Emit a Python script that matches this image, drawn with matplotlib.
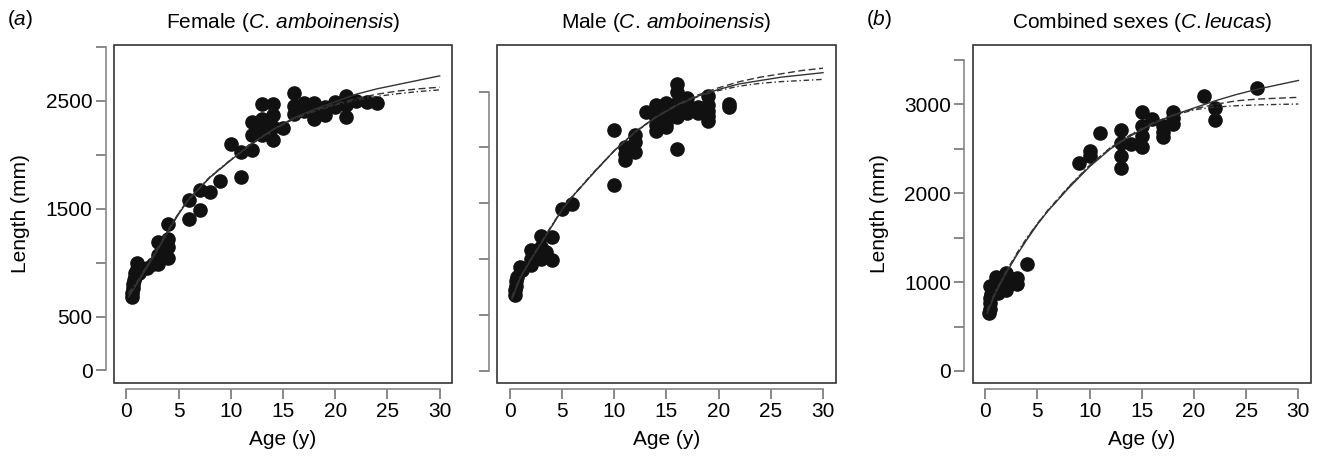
import matplotlib
import matplotlib.pyplot as plt
from matplotlib.patches import Rectangle
matplotlib.use('Agg')

plt.rcParams['font.family'] = 'Liberation Sans'
plt.rcParams['mathtext.fontset'] = 'custom'
plt.rcParams['mathtext.rm'] = 'Liberation Sans'
plt.rcParams['mathtext.it'] = 'Liberation Sans:italic'

# observed length-at-age (age in years, length in mm)
female_pts = [(0.5, 680), (0.5, 720), (0.6, 760), (0.6, 800), (0.7, 840), (0.8, 870),
              (0.8, 900), (1, 1000), (1, 940), (1.2, 900), (2, 950), (2.5, 990),
              (3, 1190), (3, 1070), (3, 990), (4, 1360), (4, 1220), (4, 1140), (4, 1040),
              (6, 1580), (6, 1400), (7, 1670), (7, 1490), (8, 1650), (9, 1760), (10, 2100),
              (11, 1790), (11, 2020), (12, 2040), (12, 2180), (12, 2300), (12.5, 2230),
              (13, 2470), (13, 2330), (13, 2180), (13.5, 2300), (14, 2470), (14, 2370),
              (14, 2260), (14, 2140), (15, 2250), (16, 2570), (16, 2450), (16, 2380),
              (17, 2400), (17, 2480), (18, 2480), (18, 2330), (18, 2420), (19, 2440),
              (19, 2370), (20, 2490), (20, 2440), (21, 2540), (21, 2460), (21, 2350),
              (22, 2500), (23, 2490), (24, 2480)]
male_pts = [(0.5, 680), (0.5, 720), (0.6, 760), (0.6, 800), (0.7, 840), (1, 930), (1.2, 900),
            (2, 1080), (2, 1000), (2, 950), (2.5, 1030), (3, 1210), (3, 1110), (3, 1000),
            (3.5, 1060), (4, 1200), (4, 990), (5, 1450), (6, 1490), (10, 2160), (10, 1660),
            (11, 2000), (11, 1890), (11, 1940), (12, 2110), (12, 2050), (12, 1960),
            (13, 2320), (14, 2380), (14, 2320), (14, 2260), (14, 2200), (14, 2150),
            (14.5, 2300), (15, 2400), (15, 2340), (15, 2280), (15, 2220), (15, 2180),
            (15, 2250), (15.5, 2300), (16, 2570), (16, 2500), (16, 2400), (16, 2330),
            (16, 2270), (16, 1990), (16.5, 2350), (17, 2440), (17, 2380), (17, 2310),
            (18, 2360), (18, 2310), (18.5, 2340), (19, 2460), (19, 2380), (19, 2330),
            (19, 2280), (19, 2240), (21, 2390), (21, 2360)]
leucas_pts = [(0.4, 650), (0.5, 700), (0.5, 760), (0.5, 820), (0.6, 870), (0.5, 960),
              (0.8, 920), (1, 1060), (1, 1000), (0.9, 960), (1.2, 880), (1.3, 940),
              (1.5, 1000), (2, 1100), (2, 1010), (2, 910), (2.5, 1030), (3, 1050), (3, 980),
              (4, 1200), (9, 2340), (10, 2480), (10, 2420), (11, 2680), (13, 2710),
              (13, 2570), (13, 2420), (13, 2290), (14, 2550), (15, 2910), (15, 2760),
              (15, 2650), (15, 2520), (16, 2840), (17, 2760), (17, 2690), (17, 2630),
              (18, 2910), (18, 2850), (18, 2780), (21, 3100), (22, 2960), (22, 2830),
              (26, 3190)]

# fitted growth curves
fit_age = [0.2, 1, 2, 3, 4, 5, 6, 8, 10, 12, 14, 16, 18, 20, 22, 24, 26, 28, 30]
female_fit1 = [680, 800, 960, 1120, 1290, 1450, 1590, 1790, 1950, 2100, 2230, 2340, 2420, 2490, 2560, 2610, 2650, 2690, 2730]
female_fit2 = [700, 810, 970, 1130, 1300, 1455, 1590, 1790, 1950, 2100, 2230, 2330, 2410, 2470, 2520, 2560, 2590, 2610, 2625]
female_fit3 = [720, 820, 980, 1140, 1305, 1460, 1595, 1795, 1955, 2105, 2230, 2330, 2400, 2460, 2505, 2540, 2565, 2585, 2600]
male_fit1 = [640, 830, 990, 1140, 1290, 1440, 1560, 1770, 1970, 2140, 2270, 2380, 2460, 2520, 2570, 2600, 2630, 2650, 2670]
male_fit2 = [650, 835, 995, 1145, 1295, 1440, 1560, 1770, 1970, 2140, 2275, 2385, 2470, 2535, 2590, 2630, 2660, 2690, 2710]
male_fit3 = [660, 840, 1000, 1150, 1300, 1445, 1565, 1775, 1970, 2135, 2270, 2375, 2455, 2510, 2550, 2575, 2590, 2600, 2610]
leucas_fit1 = [650, 880, 1100, 1300, 1480, 1650, 1800, 2060, 2300, 2500, 2650, 2780, 2880, 2960, 3040, 3110, 3170, 3220, 3270]
leucas_fit2 = [670, 890, 1110, 1310, 1490, 1655, 1805, 2070, 2310, 2510, 2660, 2790, 2880, 2950, 3000, 3040, 3060, 3070, 3080]
leucas_fit3 = [690, 900, 1120, 1320, 1500, 1660, 1810, 2075, 2315, 2515, 2665, 2790, 2875, 2940, 2970, 2985, 2995, 3000, 3005]

panels = [
    dict(pts=female_pts, fits=(female_fit1, female_fit2, female_fit3),
         title=r'Female ($\mathit{C.\,amboinensis}$)', tag=r'($\mathit{a}$)',
         ylim=(-116, 3016), yticks=list(range(0, 3001, 500)),
         ylabels=['0', '500', '', '1500', '', '2500', ''], left=0.0860),
    dict(pts=male_pts, fits=(male_fit1, male_fit2, male_fit3),
         title=r'Male ($\mathit{C.\,amboinensis}$)', tag=None,
         ylim=(-110, 2918), yticks=list(range(0, 2501, 500)),
         ylabels=[''] * 6, left=0.3753),
    dict(pts=leucas_pts, fits=(leucas_fit1, leucas_fit2, leucas_fit3),
         title=r'Combined sexes ($\mathit{C.leucas}$)', tag=r'($\mathit{b}$)',
         ylim=(-135, 3669), yticks=list(range(0, 3501, 500)),
         ylabels=['0', '', '1000', '', '2000', '', '3000', ''], left=0.7341),
]
styles = ['-', (0, (5, 2.5)), (0, (4, 2, 1, 2))]
fs = 15

fig = plt.figure(figsize=(13.25, 4.63), dpi=100)

for p in panels:
    ax = fig.add_axes([p['left'], 0.1728, 0.2553, 0.7300])
    ages = [a for a, _ in p['pts']]
    lens = [l for _, l in p['pts']]
    ax.plot(ages, lens, 'o', color='#111111', ms=9.5, mec='#111111', zorder=3)
    for fit, ls in zip(p['fits'], styles):
        ax.plot(fit_age, fit, color='#333333', lw=1.0, ls=ls, zorder=4)

    ax.set_xlim(-1.2, 31.2)
    ax.set_ylim(*p['ylim'])
    ax.set_xticks(range(0, 31, 5))
    ax.set_yticks(p['yticks'])
    ax.set_yticklabels(p['ylabels'])

    for s in ['top', 'right']:
        ax.spines[s].set_visible(False)
    ax.spines['left'].set_position(('outward', 6))
    ax.spines['bottom'].set_position(('outward', 4))
    ax.spines['left'].set_bounds(p['yticks'][0], p['yticks'][-1])
    ax.spines['bottom'].set_bounds(0, 30)
    for s in ['left', 'bottom']:
        ax.spines[s].set_color('#888888')
        ax.spines[s].set_linewidth(1.2)
    ax.add_patch(Rectangle((0, 0), 1, 1, transform=ax.transAxes, fill=False,
                           ec='#333333', lw=1.2, zorder=5, clip_on=False))
    ax.tick_params(direction='out', length=7.5, width=1.4, color='#888888',
                   labelsize=fs, pad=2)

    ax.set_title(p['title'], fontsize=fs, pad=12)
    ax.set_xlabel('Age (y)', fontsize=fs, labelpad=7)
    if p['tag'] is not None:
        ax.set_ylabel('Length (mm)', fontsize=fs, labelpad=11)
        ax.text(-0.315, 1.075, p['tag'], transform=ax.transAxes, fontsize=fs,
                va='center', ha='left')

plt.savefig('out.png', dpi=100)
plt.close('all')
